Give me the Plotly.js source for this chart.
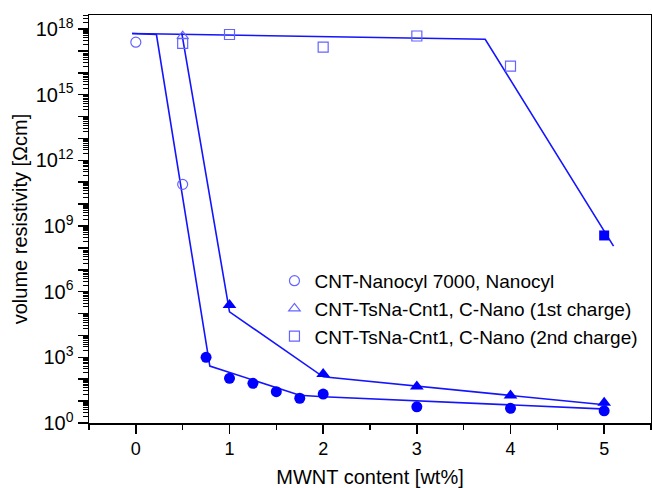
<!DOCTYPE html>
<html>
<head>
<meta charset="utf-8">
<script src="https://cdn.plot.ly/plotly-3.0.1.min.js"></script>
<style>html,body{margin:0;padding:0;background:#fff}#chart{width:652px;height:488px}</style>
</head>
<body>
<div id="chart"></div>
<script>
// ---- data ----
const seriesNames = [
  'CNT-Nanocyl 7000, Nanocyl',
  'CNT-TsNa-Cnt1, C-Nano (1st charge)',
  'CNT-TsNa-Cnt1, C-Nano (2nd charge)'
];
// open symbols (insulating region)
const nanocylOpenX = [0, 0.5];
const nanocylOpenY = [2.5e17, 8e10];
const charge1OpenX = [0.5];
const charge1OpenY = [4.7e17];
const charge2OpenX = [0.5, 1, 2, 3, 4];
const charge2OpenY = [2.2e17, 5.6e17, 1.5e17, 4.8e17, 2.0e16];
// filled symbols (conductive region)
const nanocylFilledX = [0.75, 1, 1.25, 1.5, 1.75, 2, 3, 4, 5];
const nanocylFilledY = [1000, 110, 65, 27, 13.5, 21, 5.5, 4.7, 3.6];
const charge1FilledX = [1, 2, 3, 4, 5];
const charge1FilledY = [2.45e5, 175, 46, 18, 8.5];
const charge2FilledX = [5];
const charge2FilledY = [3.7e8];
// guide lines
const nanocylLineX = [-0.04, 0.22, 0.79, 1.75, 2, 5.03];
const nanocylLineY = [6.2e17, 5.6e17, 400, 18.6, 15.8, 4.3];
const charge1LineX = [0.49, 1.0, 2.0, 5.03];
const charge1LineY = [6.6e17, 1.2e5, 129, 6.6];
const charge2LineX = [-0.04, 3.73, 5.10];
const charge2LineY = [6.2e17, 3.4e17, 1.2e8];
// tick labels
const yLabelDecades = [0, 3, 6, 9, 12, 15, 18];
const yDecades = [0,1,2,3,4,5,6,7,8,9,10,11,12,13,14,15,16,17,18];
const xTicks = [0,1,2,3,4,5];

const lineBlue = '#1414ff';
const solidBlue = '#0000ff';
const openBlue = '#6464ff';

function openTrace(x, y, sym, name) {
  return {x, y, type:'scatter', mode:'markers', name,
    marker:{symbol:sym, size:10, color:openBlue, line:{color:openBlue, width:1.2}}};
}
function filledTrace(x, y, sym, size, yax) {
  return {x, y, type:'scatter', mode:'markers', showlegend:false, hoverinfo:'skip', yaxis:yax || 'y',
    marker:{symbol:sym, size:size, color:solidBlue, line:{width:0}}};
}
function lineTrace(x, y) {
  return {x, y, type:'scatter', mode:'lines', showlegend:false, hoverinfo:'skip',
    line:{color:lineBlue, width:1.6}};
}

const traces = [
  lineTrace(nanocylLineX, nanocylLineY),
  lineTrace(charge1LineX, charge1LineY),
  lineTrace(charge2LineX, charge2LineY),
  filledTrace(nanocylFilledX, nanocylFilledY, 'circle', 11),
  filledTrace(charge1FilledX, charge1FilledY, 'triangle-up', 12),
  filledTrace(charge2FilledX, charge2FilledY, 'square', 10, 'y2'),
  openTrace(nanocylOpenX, nanocylOpenY, 'circle-open', seriesNames[0]),
  openTrace(charge1OpenX, charge1OpenY, 'triangle-up-open', seriesNames[1]),
  openTrace(charge2OpenX, charge2OpenY, 'square-open', seriesNames[2])
];

const yMinor = [];
for (let d = 0; d < 19; d++) for (let k = 2; k <= 9; k++) yMinor.push(k * Math.pow(10, d));

const font = 'Liberation Sans, Arial, sans-serif';
const yRange = [0, 18.64];
const layout = {
  width:652, height:488,
  margin:{l:89, r:1, t:15, b:65, pad:0},
  paper_bgcolor:'#fff', plot_bgcolor:'#fff',
  font:{family:font, color:'#000'},
  showlegend:true,
  legend:{x:0.33, y:0.395, xanchor:'left', yanchor:'top', bgcolor:'rgba(0,0,0,0)',
    font:{family:font, size:19, color:'#000'}, tracegroupgap:0, itemwidth:30},
  xaxis:{range:[-0.5, 5.5], tickmode:'array', tickvals:xTicks, ticktext:xTicks.map(String),
    ticks:'outside', ticklen:9, tickwidth:1.5, tickcolor:'#000',
    showline:true, linecolor:'#000', linewidth:1.5, mirror:true,
    showgrid:false, zeroline:false, tickfont:{size:18},
    minor:{tickmode:'array', tickvals:[-0.5,0.5,1.5,2.5,3.5,4.5,5.5], ticks:'outside', ticklen:5, tickwidth:1.2, tickcolor:'#000'},
    title:{text:'MWNT content [wt%]', font:{size:20}, standoff:14}},
  yaxis:{type:'log', range:yRange, tickmode:'array',
    tickvals:yLabelDecades.map(d => Math.pow(10, d)),
    ticktext:yLabelDecades.map(d => '10<sup>' + d + '</sup>'),
    ticks:'outside', ticklen:10, tickwidth:1.5, tickcolor:'#000',
    showline:true, linecolor:'#000', linewidth:1.5, mirror:true,
    showgrid:false, zeroline:false, tickfont:{size:20},
    minor:{tickmode:'array', tickvals:yMinor, ticks:'outside', ticklen:5, tickwidth:1, tickcolor:'#000'},
    title:{text:'volume resistivity [Ωcm]', font:{size:20}, standoff:2}},
  yaxis2:{type:'log', range:yRange, overlaying:'y', side:'left', tickmode:'array',
    tickvals:yDecades.map(d => Math.pow(10, d)), showticklabels:false,
    ticks:'outside', ticklen:10, tickwidth:1.5, tickcolor:'#000',
    showline:false, showgrid:false, zeroline:false}
};

Plotly.newPlot('chart', traces, layout, {displayModeBar:false, staticPlot:true});
</script>
</body>
</html>
